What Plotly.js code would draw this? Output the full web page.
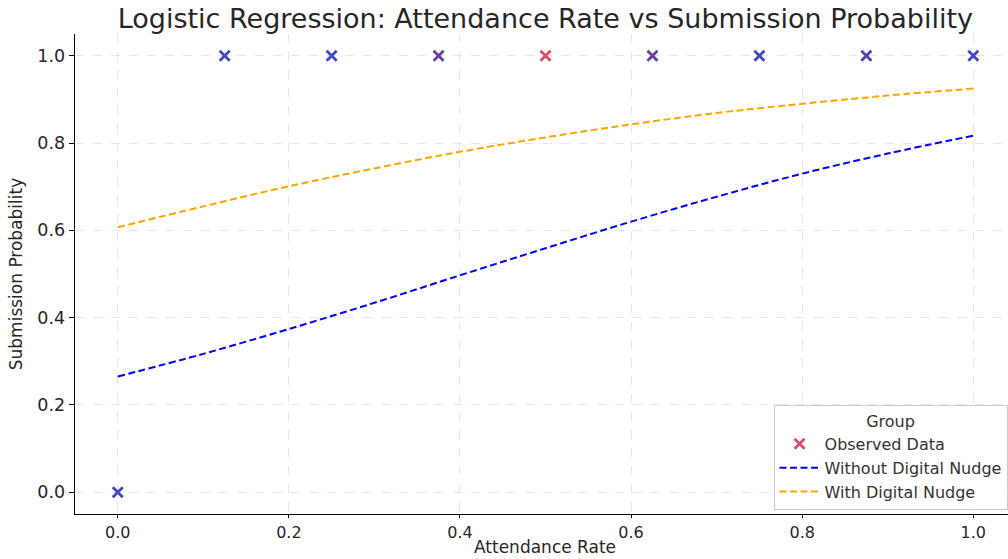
<!DOCTYPE html>
<html>
<head>
<meta charset="utf-8">
<script src="https://cdn.plot.ly/plotly-3.0.1.min.js"></script>
<style>html,body{margin:0;padding:0;background:#fff;}#chart{width:1008px;height:559px;}</style>
</head>
<body>
<div id="chart"></div>
<script>
// Observed data points
const obsX = [0.0, 0.125, 0.25, 0.375, 0.5, 0.625, 0.75, 0.875, 1.0];
const obsY = [0, 1, 1, 1, 1, 1, 1, 1, 1];
const obsColors = ['#4646bd', '#4646bd', '#4646bd', '#673fa0', '#d4506a', '#673fa0', '#4646bd', '#5242b0', '#4646bd'];

// Fitted curves
const curveX = [0.0, 0.1, 0.2, 0.3, 0.4, 0.5, 0.6, 0.7, 0.8, 0.9, 1.0];
const withoutNudge = [0.265, 0.317, 0.374, 0.434, 0.497, 0.559, 0.620, 0.677, 0.730, 0.776, 0.817];
const withNudge = [0.607, 0.655, 0.701, 0.742, 0.780, 0.813, 0.843, 0.869, 0.890, 0.909, 0.925];

const xTicks = [0.0, 0.2, 0.4, 0.6, 0.8, 1.0];
const yTicks = [0.0, 0.2, 0.4, 0.6, 0.8, 1.0];
const tickFmt = v => v.toFixed(1);

const xTitle = 'Attendance Rate';
const yTitle = 'Submission Probability';
const chartTitle = 'Logistic Regression: Attendance Rate vs Submission Probability';

const font = 'DejaVu Sans, sans-serif';

const traces = [
  {
    x: obsX, y: obsY, mode: 'markers', type: 'scatter', name: 'Observed Data',
    marker: {symbol: 'x-thin', size: 10, color: obsColors, line: {width: 2.8, color: obsColors}},
    showlegend: false
  },
  {
    x: [null], y: [null], mode: 'markers', type: 'scatter', name: 'Observed Data',
    marker: {symbol: 'x-thin', size: 10, color: '#d4506a', line: {width: 2.8, color: '#d4506a'}}
  },
  {
    x: curveX, y: withoutNudge, mode: 'lines', type: 'scatter', name: 'Without Digital Nudge',
    line: {color: '#0000ff', width: 2, dash: '7px,3.5px', shape: 'spline'}
  },
  {
    x: curveX, y: withNudge, mode: 'lines', type: 'scatter', name: 'With Digital Nudge',
    line: {color: '#ffa500', width: 2, dash: '7px,3.5px', shape: 'spline'}
  }
];

const layout = {
  width: 1008, height: 559,
  margin: {l: 75, r: 0, t: 34, b: 45},
  paper_bgcolor: '#fff', plot_bgcolor: '#fff',
  font: {family: font, color: '#262626', size: 17},
  title: {text: chartTitle,
          font: {family: font, size: 27, color: '#262626'}, xref: 'container', x: 0.541, xanchor: 'center', y: 0.967, yanchor: 'middle'},
  xaxis: {
    range: [-0.05, 1.0406], tickmode: 'array', tickvals: xTicks, ticktext: xTicks.map(tickFmt),
    showline: true, linecolor: '#000', linewidth: 1.3, mirror: false,
    ticks: 'outside', ticklen: 3, tickcolor: '#000', tickwidth: 1,
    showgrid: true, gridcolor: '#e6e6e6', griddash: 'dash', gridwidth: 1, zeroline: false,
    tickfont: {size: 16}
  },
  yaxis: {
    range: [-0.05, 1.05], tickmode: 'array', tickvals: yTicks, ticktext: yTicks.map(tickFmt),
    showline: true, linecolor: '#000', linewidth: 1.3, mirror: false,
    ticks: 'outside', ticklen: 5, tickcolor: '#000', tickwidth: 1,
    showgrid: true, gridcolor: '#e6e6e6', griddash: 'dash', gridwidth: 1, zeroline: false,
    tickfont: {size: 17.5},
    title: {text: yTitle, font: {size: 17}, standoff: 10}
  },
  annotations: [{
    text: xTitle, xref: 'paper', yref: 'paper', x: 0.504, y: -0.069,
    xanchor: 'center', yanchor: 'middle', showarrow: false, borderpad: 0,
    font: {family: font, size: 17, color: '#262626'}
  }],
  legend: {
    x: 0.9995, xanchor: 'right', y: 0.008, yanchor: 'bottom',
    bgcolor: 'rgba(255,255,255,0.85)', bordercolor: '#cccccc', borderwidth: 1,
    font: {size: 16, color: '#333'},
    title: {text: 'Group', side: 'top center', font: {size: 16, color: '#333'}},
    tracegroupgap: 0, itemwidth: 40
  },
  showlegend: true
};

Plotly.newPlot('chart', traces, layout, {displayModeBar: false, staticPlot: true});
</script>
</body>
</html>
